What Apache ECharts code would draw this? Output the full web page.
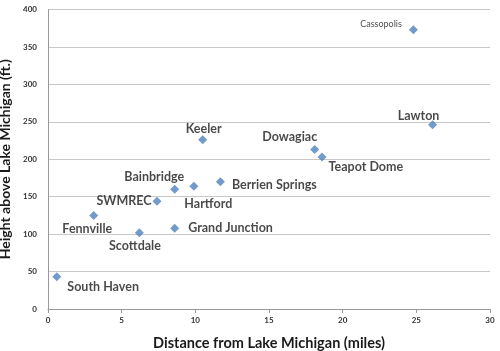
<!DOCTYPE html>
<html><head><meta charset="utf-8">
<script src="https://cdn.jsdelivr.net/npm/echarts@6/dist/echarts.min.js"></script>
<style>html,body{margin:0;padding:0;background:#fff}#c{width:500px;height:351px}</style>
</head><body><div id="c"></div>
<script>
const sites = ["South Haven","Fennville","Scottdale","SWMREC","Bainbridge","Hartford","Grand Junction","Berrien Springs","Keeler","Cassopolis","Lawton","Dowagiac","Teapot Dome"];
const distanceMiles = [0.6, 3.1, 6.2, 7.4, 8.6, 9.9, 8.6, 11.7, 10.5, 24.8, 26.1, 18.1, 18.6];
const heightFt = [43, 125, 102, 144, 160, 164, 108, 170, 226, 373, 246, 213, 203];
const xTicks = [0, 5, 10, 15, 20, 25, 30];
const yTicks = [0, 50, 100, 150, 200, 250, 300, 350, 400];

// label placement (style only): [position, offsetX, offsetY]
const place = {
  "South Haven": ["right", 1, 10],
  "Fennville": ["left", 28, 14],
  "Scottdale": ["left", 31, 13],
  "SWMREC": ["left", 4, 0],
  "Bainbridge": ["left", 19, -12],
  "Hartford": ["right", -19, 18],
  "Grand Junction": ["right", 4, 0],
  "Berrien Springs": ["right", 2, 3],
  "Keeler": ["top", 1, 5],
  "Cassopolis": ["left", -2, -6],
  "Lawton": ["top", -14, 7],
  "Dowagiac": ["left", 12, -13],
  "Teapot Dome": ["right", -3, 10]
};

const data = sites.map((s, i) => {
  const p = place[s];
  const small = s === "Cassopolis";
  return {
    name: s,
    value: [distanceMiles[i], heightFt[i]],
    label: {
      show: true, formatter: s, position: p[0], offset: [p[1], p[2]],
      fontSize: small ? 9 : 12.5, fontWeight: small ? 'normal' : 'bold',
      color: '#1a1a1a', fontFamily: 'Lato', distance: 5
    }
  };
});

const chart = echarts.init(document.getElementById('c'));
chart.setOption({
  animation: false,
  grid: { left: 48, right: 10, top: 9.5, bottom: 42, containLabel: false, outerBoundsMode: 'none' },
  xAxis: {
    type: 'value', min: xTicks[0], max: xTicks[xTicks.length - 1], interval: 5,
    name: 'Distance from Lake Michigan (miles)', nameLocation: 'middle', nameGap: 27,
    nameTextStyle: { fontSize: 14.5, fontWeight: 'bold', color: '#1a1a1a', fontFamily: 'Lato' },
    axisLine: { lineStyle: { color: '#999' } },
    axisTick: { show: true, length: 4, lineStyle: { color: '#999' } },
    axisLabel: { fontSize: 8, fontWeight: 'bold', color: '#333', fontFamily: 'Lato', margin: 7 },
    splitLine: { show: false }
  },
  yAxis: {
    type: 'value', min: yTicks[0], max: yTicks[yTicks.length - 1], interval: 50,
    name: 'Height above Lake Michigan (ft.)', nameLocation: 'middle', nameGap: 28,
    nameTextStyle: { fontSize: 14, fontWeight: 'bold', color: '#1a1a1a', fontFamily: 'Lato' },
    axisLine: { show: true, lineStyle: { color: '#999' } },
    axisTick: { show: false },
    axisLabel: { fontSize: 8, fontWeight: 'bold', color: '#333', fontFamily: 'Lato', margin: 11 },
    splitLine: { show: true, lineStyle: { color: '#c8c8c8', width: 1 } }
  },
  series: [{
    type: 'scatter', symbol: 'diamond', symbolSize: 9,
    itemStyle: { color: '#4f81bd' },
    data: data
  }]
});
</script>
</body></html>
